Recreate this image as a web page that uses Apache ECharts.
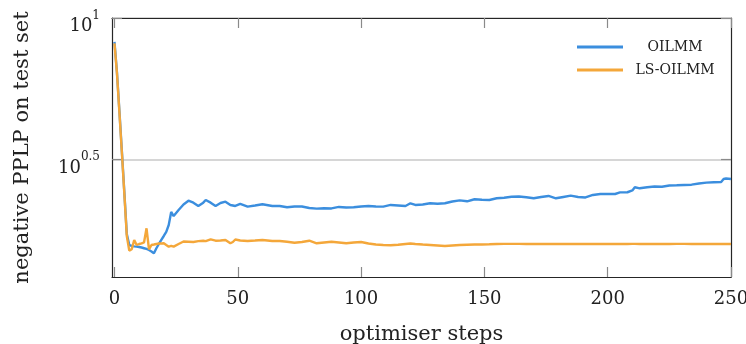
<!DOCTYPE html>
<html><head><meta charset="utf-8">
<script src="https://cdn.jsdelivr.net/npm/echarts@6/dist/echarts.min.js"></script>
<style>html,body{margin:0;padding:0;background:#fff}#c{width:746px;height:344px}</style>
</head><body><div id="c"></div>
<script>
const steps = [0,1,2,3,4,5,6,7,8,9,10,11,12,13,14,15,16,17,18,19,20,21,22,23,24,
  26,28,30,32,34,36,37,39,41,43,45,47,48,49,51,54,57,60,
  64,67,70,73,76,79,82,85,88,91,94,97,100,
  103,106,109,112,115,118,120,122,125,128,131,134,137,140,
  143,146,149,152,155,158,161,164,167,170,173,176,179,182,185,188,191,194,197,200,
  203,205,208,210,211,213,216,219,222,225,228,231,234,237,240,243,246,247,248,250];
const oilmm = [8.23,6.45,4.70,3.39,2.43,1.73,1.58,1.569,1.563,1.560,1.556,1.549,1.540,1.531,1.518,1.50,1.478,1.540,1.594,1.647,1.701,1.758,1.860,2.068,2.001,
  2.101,2.198,2.266,2.230,2.171,2.230,2.279,2.230,2.171,2.224,2.248,2.189,2.180,2.171,2.207,2.159,2.180,2.202,
  2.171,2.171,2.148,2.162,2.162,2.136,2.124,2.131,2.128,2.154,2.145,2.148,2.162,
  2.171,2.162,2.159,2.189,2.180,2.171,2.219,2.189,2.198,2.219,2.210,2.219,2.252,2.273,
  2.255,2.293,2.284,2.279,2.311,2.322,2.341,2.345,2.330,2.311,2.336,2.355,2.311,2.336,2.361,2.336,2.326,2.374,2.393,2.393,
  2.393,2.424,2.427,2.462,2.527,2.506,2.527,2.543,2.539,2.565,2.569,2.575,2.581,2.606,2.624,2.633,2.639,2.704,2.715,2.704];
const lsOilmm = [8.14,6.40,4.65,3.36,2.40,1.70,1.51,1.527,1.647,1.581,1.594,1.603,1.616,1.811,1.527,1.581,1.587,1.594,1.600,1.600,1.603,1.581,1.560,1.569,1.560,
  1.594,1.627,1.624,1.620,1.631,1.637,1.631,1.656,1.637,1.640,1.647,1.603,1.620,1.653,1.640,1.634,1.640,1.647,
  1.634,1.634,1.624,1.611,1.620,1.637,1.603,1.614,1.624,1.614,1.603,1.614,1.620,
  1.600,1.587,1.581,1.577,1.584,1.594,1.600,1.594,1.587,1.581,1.575,1.569,1.575,1.581,
  1.584,1.587,1.587,1.590,1.594,1.596,1.596,1.595,1.594,1.594,1.593,1.593,1.594,1.594,1.594,1.593,1.593,1.594,1.594,1.594,
  1.594,1.594,1.594,1.595,1.595,1.594,1.594,1.594,1.594,1.594,1.595,1.595,1.594,1.594,1.594,1.594,1.594,1.594,1.594,1.594];
const seriesNames = ['OILMM', 'LS-OILMM'];
const xTicks = [0, 50, 100, 150, 200, 250];
const yTicks = [3.16228, 10];
const yTickExp = ['0.5', '1'];

const FONT = 'DejaVu Serif';
const BLUE = '#3b8ede', ORANGE = '#f4a73a';
const xMin = -1, xMax = 250, yMin = 1.219, yMax = 10;
const frame = {show: true, onZero: false, lineStyle: {color: '#262626', width: 1.2}};
const tickStyle = {show: true, inside: true, length: 10, lineStyle: {color: '#8a8a8a', width: 1.2}};

function yLabel(v) {
  let i = yTicks.findIndex(t => Math.abs(t - v) / t < 1e-3);
  return i < 0 ? '' : '{b|10}{s|' + yTickExp[i] + '}';
}
const pair = arr => steps.map((s, i) => [s, arr[i]]);

const chart = echarts.init(document.getElementById('c'), null, {renderer: 'canvas'});
chart.setOption({
  animation: false,
  backgroundColor: '#fff',
  grid: {left: 112, right: 15, top: 18, bottom: 67, containLabel: false, outerBoundsMode: 'none'},
  legend: {
    orient: 'vertical', left: 572, top: 35, itemWidth: 46, itemHeight: 3, itemGap: 9,
    icon: 'rect',
    data: seriesNames,
    formatter: n => '{t|' + n + '}',
    textStyle: {rich: {t: {width: 94, height: 14, align: 'center', fontFamily: FONT, fontSize: 14, lineHeight: 14, color: '#222'}}}
  },
  xAxis: [{
    type: 'value', min: xMin, max: xMax, position: 'bottom',
    name: 'optimiser steps', nameLocation: 'middle', nameGap: 47,
    nameTextStyle: {fontFamily: FONT, fontSize: 21, color: '#222'},
    axisLine: frame,
    axisTick: Object.assign({customValues: xTicks}, tickStyle),
    axisLabel: {customValues: xTicks, fontFamily: FONT, fontSize: 18, color: '#222', margin: 13},
    splitLine: {show: false}
  }, {
    type: 'value', min: xMin, max: xMax, position: 'top',
    axisLine: frame,
    axisTick: Object.assign({customValues: xTicks}, tickStyle),
    axisLabel: {show: false},
    splitLine: {show: false}
  }],
  yAxis: [{
    type: 'log', logBase: 10, min: yMin, max: yMax, position: 'left',
    name: 'negative PPLP on test set', nameLocation: 'middle', nameGap: 79,
    nameTextStyle: {fontFamily: FONT, fontSize: 21, color: '#222'},
    axisLine: frame,
    axisTick: Object.assign({customValues: yTicks}, tickStyle),
    axisLabel: {
      customValues: yTicks, formatter: yLabel, margin: 12, padding: [9, 0, 0, 0],
      rich: {
        b: {fontFamily: FONT, fontSize: 18, lineHeight: 26, color: '#222', verticalAlign: 'bottom'},
        s: {fontFamily: FONT, fontSize: 12, lineHeight: 26, color: '#222', verticalAlign: 'top'}
      }
    },
    splitLine: {show: true, lineStyle: {color: '#c8c8c8', width: 1.5}}
  }, {
    type: 'log', logBase: 10, min: yMin, max: yMax, position: 'right',
    axisLine: frame,
    axisTick: Object.assign({customValues: yTicks}, tickStyle),
    axisLabel: {show: false},
    splitLine: {show: false}
  }],
  series: [{
    name: seriesNames[0], type: 'line', data: pair(oilmm), symbol: 'none', showSymbol: false,
    lineStyle: {color: BLUE, width: 2.4}, itemStyle: {color: BLUE}, z: 2
  }, {
    name: seriesNames[1], type: 'line', data: pair(lsOilmm), symbol: 'none', showSymbol: false,
    lineStyle: {color: ORANGE, width: 2.4}, itemStyle: {color: ORANGE}, z: 3
  }]
});
</script></body></html>
